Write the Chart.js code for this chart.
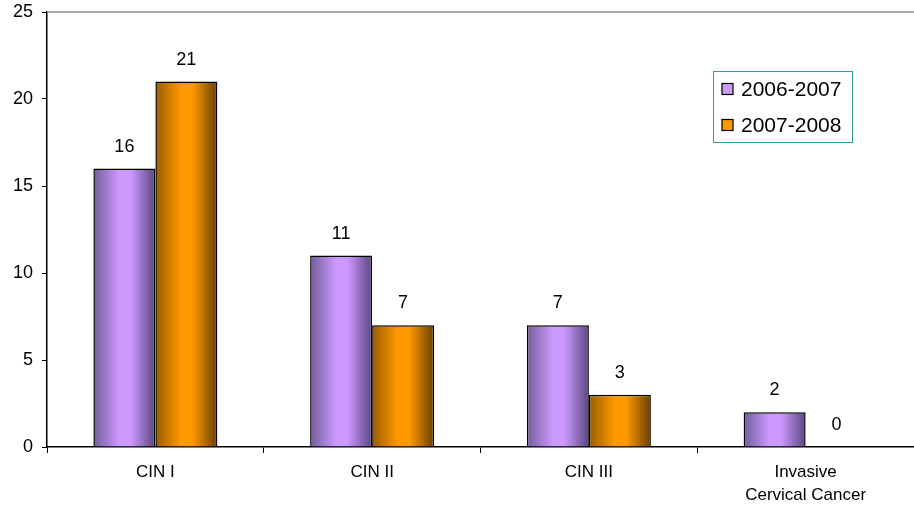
<!DOCTYPE html>
<html>
<head>
<meta charset="utf-8">
<script src="https://cdn.jsdelivr.net/npm/chart.js@4/dist/chart.umd.min.js"></script>
<style>
  html, body { margin: 0; padding: 0; background: #fff; }
  #wrap { width: 914px; height: 512px; }
</style>
</head>
<body>
<div id="wrap"><canvas id="lesionChart"></canvas></div>
<script>
// Chart data
const categories = ['CIN I', 'CIN II', 'CIN III', ['Invasive', 'Cervical Cancer']];
const seriesNames = ['2006-2007', '2007-2008'];
const values2006 = [16, 11, 7, 2];
const values2007 = [21, 7, 3, 0];
const yTicks = [0, 5, 10, 15, 20, 25];

const FONT = '"Liberation Sans", Arial, sans-serif';
const CAT_PCT = 0.572;

// dark edge / light middle / darker edge for the cylinder look
const shades = [
    { base: '#cc99ff', left: '#735d9b', right: '#5a4680' },
    { base: '#ff9900', left: '#9a5c00', right: '#6a3f00' }
];

function barGradient(dsIndex) {
    return function (ctx) {
        const chart = ctx.chart;
        const xs = chart.scales.x;
        const s = shades[dsIndex];
        if (!xs || !chart.chartArea || ctx.dataIndex === undefined) return s.base;
        const catW = xs.width / categories.length;
        const barW = catW * CAT_PCT / 2;
        const center = xs.getPixelForValue(ctx.dataIndex);
        const left = dsIndex === 0 ? center - barW : center;
        const g = chart.ctx.createLinearGradient(left, 0, left + barW, 0);
        g.addColorStop(0, s.left);
        g.addColorStop(0.42, s.base);
        g.addColorStop(0.6, s.base);
        g.addColorStop(1, s.right);
        return g;
    };
}

// Top frame line, value labels and the boxed legend
const extras = {
    id: 'extras',
    afterDatasetsDraw(chart) {
        const c = chart.ctx;
        const area = chart.chartArea;

        c.save();
        c.strokeStyle = '#8c8c8c';
        c.lineWidth = 1.5;
        c.beginPath();
        c.moveTo(area.left, area.top);
        c.lineTo(area.right, area.top);
        c.stroke();

        c.fillStyle = '#000';
        c.font = '18px ' + FONT;
        c.textAlign = 'center';
        c.textBaseline = 'bottom';
        chart.data.datasets.forEach((ds, i) => {
            chart.getDatasetMeta(i).data.forEach((bar, j) => {
                c.fillText(String(ds.data[j]), bar.x, bar.y - 13);
            });
        });

        // legend box
        const lx = 713, ly = 71, lw = 139, lh = 71;
        c.fillStyle = '#fff';
        c.fillRect(lx, ly, lw, lh);
        c.strokeStyle = '#2e9c9c';
        c.lineWidth = 1;
        c.strokeRect(lx + 0.5, ly + 0.5, lw, lh);
        c.font = '21px ' + FONT;
        c.textAlign = 'left';
        c.textBaseline = 'middle';
        seriesNames.forEach((name, i) => {
            const cy = ly + 18 + i * 36;
            c.fillStyle = shades[i].base;
            c.fillRect(722, cy - 5.5, 11, 11);
            c.strokeStyle = '#000';
            c.lineWidth = 1.2;
            c.strokeRect(722, cy - 5.5, 11, 11);
            c.fillStyle = '#000';
            c.fillText(name, 741, cy + 1);
        });
        c.restore();
    }
};

new Chart(document.getElementById('lesionChart'), {
    type: 'bar',
    data: {
        labels: categories,
        datasets: [
            {
                label: seriesNames[0],
                data: values2006,
                backgroundColor: barGradient(0),
                borderColor: '#000',
                borderWidth: 1.5
            },
            {
                label: seriesNames[1],
                data: values2007,
                backgroundColor: barGradient(1),
                borderColor: '#000',
                borderWidth: 1.5
            }
        ]
    },
    options: {
        responsive: true,
        maintainAspectRatio: false,
        animation: false,
        events: [],
        layout: { padding: { top: 12, left: 0, right: 0, bottom: 0 } },
        datasets: {
            bar: { categoryPercentage: CAT_PCT, barPercentage: 1 }
        },
        plugins: {
            legend: { display: false },
            tooltip: { enabled: false }
        },
        scales: {
            x: {
                grid: { drawOnChartArea: false, drawTicks: true, tickLength: 6, color: '#000', lineWidth: 1 },
                border: { color: '#000', width: 1.5 },
                ticks: {
                    color: '#000',
                    padding: 8,
                    maxRotation: 0,
                    autoSkip: false,
                    font: { family: FONT, size: 17, lineHeight: 1.35 }
                },
                afterFit(scale) { scale.height = 65; }
            },
            y: {
                min: 0,
                max: 25,
                afterBuildTicks(scale) {
                    scale.ticks = yTicks.map(v => ({ value: v }));
                },
                grid: { drawOnChartArea: false, drawTicks: true, tickLength: 5, color: '#000', lineWidth: 1 },
                border: { color: '#000', width: 1.5 },
                ticks: {
                    color: '#000',
                    padding: 9,
                    font: { family: FONT, size: 18 }
                },
                afterFit(scale) {
                    scale.width = 47;
                    scale.paddingTop = 0;
                    scale.paddingBottom = 0;
                }
            }
        }
    },
    plugins: [extras]
});
</script>
</body>
</html>
